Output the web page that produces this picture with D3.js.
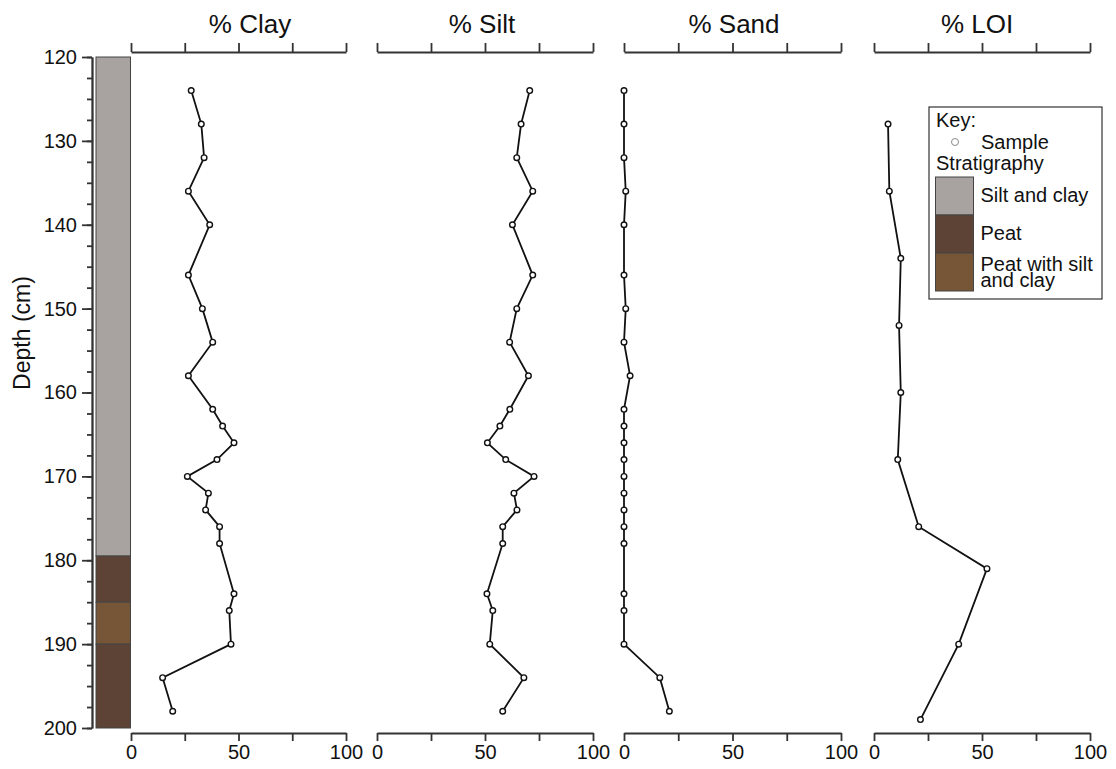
<!DOCTYPE html>
<html>
<head>
<meta charset="utf-8">
<script src="https://cdn.jsdelivr.net/npm/d3@7"></script>
<style>
  body { margin: 0; background: #fff; }
  svg { font-family: Arial, "Liberation Sans", sans-serif; }
</style>
</head>
<body>
<div id="chart"></div>
<script>
// sample depths (cm) and grain size percentages
const depths = [124, 128, 132, 136, 140, 146, 150, 154, 158, 162, 164, 166, 168, 170, 172, 174, 176, 178, 184, 186, 190, 194, 198];
const clay = [28, 32.7, 34, 26.7, 36.6, 26.7, 33.2, 38, 26.7, 38, 42.6, 47.9, 40, 26.2, 36, 34.7, 41.2, 41.2, 47.9, 45.7, 46.5, 14.7, 19.4];
const silt = [70.7, 66.7, 64.7, 72.1, 62.7, 72.1, 64.7, 61.4, 70.1, 61.5, 56.9, 51.1, 59.6, 72.7, 63.4, 64.8, 58.2, 58.2, 50.9, 53.6, 52.2, 68, 58.2];
const sand = [0, 0, 0, 0.8, 0, 0, 0.8, 0, 2.8, 0, 0, 0, 0, 0, 0, 0, 0, 0, 0, 0, 0, 16.5, 20.9];

// loss on ignition samples
const loiDepths = [128, 136, 144, 152, 160, 168, 176, 181, 190, 199];
const loi = [6.5, 7.1, 12.4, 11.6, 12.4, 11, 20.7, 52.3, 39.2, 21.5];

// stratigraphy column
const strataTop = [120, 179.5, 185, 190];
const strataBottom = [179.5, 185, 190, 200];
const strataType = ["Silt and clay", "Peat", "Peat with silt and clay", "Peat"];

const strataNames = ["Silt and clay", "Peat", "Peat with silt and clay"];
const strataColors = ["#a8a3a0", "#5d4335", "#765636"];

const panelTitles = ["% Clay", "% Silt", "% Sand", "% LOI"];
const depthTicks = [120, 130, 140, 150, 160, 170, 180, 190, 200];
const pctTicks = [0, 25, 50, 75, 100];

const width = 1116, height = 769;

const svg = d3.select("#chart").append("svg")
  .attr("width", width)
  .attr("height", height);

const y = d3.scaleLinear().domain([120, 200]).range([57, 728]);
const stratColor = d3.scaleOrdinal().domain(strataNames).range(strataColors);

// panel placements (left/right pixel edge of 0..100)
const panelX = [[131, 346], [377, 593], [624, 841], [874, 1090]];
const titleX = [250, 482, 734, 977];
const axisTopY = 52, axisBottomY = 733;

const axisColor = "#333";

// ---- depth axis ----
const yMinor = d3.range(120, 200.01, 2.5);
svg.append("g")
  .attr("transform", "translate(92,0)")
  .call(d3.axisLeft(y).tickValues(yMinor).tickSize(5).tickFormat("").tickSizeOuter(0));
svg.append("g")
  .attr("transform", "translate(92,0)")
  .call(d3.axisLeft(y).tickValues(depthTicks).tickSize(10).tickPadding(5).tickSizeOuter(0))
  .call(g => g.selectAll("text").attr("font-size", 20).attr("font-family", "Arial, 'Liberation Sans'").attr("fill", "#111"));

svg.selectAll(".domain, .tick line").attr("stroke", axisColor).attr("stroke-width", 1.8);

svg.append("text")
  .attr("transform", "translate(30,333) rotate(-90)")
  .attr("text-anchor", "middle")
  .attr("font-size", 23)
  .attr("fill", "#111")
  .text("Depth (cm)");

// ---- stratigraphy column ----
svg.append("g").selectAll("rect")
  .data(strataTop)
  .join("rect")
  .attr("x", 96)
  .attr("width", 34.5)
  .attr("y", d => y(d))
  .attr("height", (d, i) => y(strataBottom[i]) - y(d))
  .attr("fill", (d, i) => stratColor(strataType[i]))
  .attr("stroke", "#444")
  .attr("stroke-width", 1);

// ---- profile panels ----
const series = [
  { depth: depths, values: clay },
  { depth: depths, values: silt },
  { depth: depths, values: sand },
  { depth: loiDepths, values: loi }
];

series.forEach((s, i) => {
  const x = d3.scaleLinear().domain([0, 100]).range(panelX[i]);
  const g = svg.append("g");

  g.append("g")
    .attr("transform", `translate(0,${axisTopY})`)
    .call(d3.axisTop(x).tickValues(pctTicks).tickSize(9).tickFormat("").tickSizeOuter(0));

  g.append("g")
    .attr("transform", `translate(0,${axisBottomY})`)
    .call(d3.axisBottom(x).tickValues(pctTicks).tickSize(8).tickPadding(4).tickSizeOuter(0)
      .tickFormat(d => d % 50 === 0 ? d : ""))
    .call(a => a.selectAll("text").attr("font-size", 20).attr("font-family", "Arial, 'Liberation Sans'").attr("fill", "#111"));

  g.selectAll(".domain, .tick line").attr("stroke", axisColor).attr("stroke-width", 1.8);

  g.append("text")
    .attr("x", titleX[i])
    .attr("y", 33)
    .attr("text-anchor", "middle")
    .attr("font-size", 26)
    .attr("fill", "#111")
    .text(panelTitles[i]);

  const pts = s.depth.map((d, k) => [x(s.values[k]), y(d)]);

  g.append("path")
    .attr("d", d3.line()(pts))
    .attr("fill", "none")
    .attr("stroke", "#111")
    .attr("stroke-width", 1.8);

  g.selectAll("circle")
    .data(pts)
    .join("circle")
    .attr("cx", d => d[0])
    .attr("cy", d => d[1])
    .attr("r", 2.8)
    .attr("fill", "#fff")
    .attr("stroke", "#111")
    .attr("stroke-width", 1.4);
});

// ---- legend ----
const legend = svg.append("g").attr("transform", "translate(929,107)");
legend.append("rect")
  .attr("width", 173).attr("height", 192)
  .attr("fill", "#fff").attr("stroke", "#333").attr("stroke-width", 1.2);

legend.append("text").attr("x", 7).attr("y", 20).attr("font-size", 20).attr("fill", "#111").text("Key:");
legend.append("circle").attr("cx", 26).attr("cy", 35).attr("r", 3.5)
  .attr("fill", "#fff").attr("stroke", "#888").attr("stroke-width", 1);
legend.append("text").attr("x", 52).attr("y", 42).attr("font-size", 20).attr("fill", "#111").text("Sample");
legend.append("text").attr("x", 7).attr("y", 63).attr("font-size", 20).attr("fill", "#111").text("Stratigraphy");

const items = legend.selectAll(".key-item")
  .data(strataNames)
  .join("g")
  .attr("class", "key-item")
  .attr("transform", (d, i) => `translate(6.5,${70 + i * 38})`);

items.append("rect")
  .attr("width", 38).attr("height", 38)
  .attr("fill", d => stratColor(d))
  .attr("stroke", "#444").attr("stroke-width", 1);

// two-line label for the last key entry
items.each(function (d) {
  const lines = d === "Peat with silt and clay" ? ["Peat with silt", "and clay"] : [d];
  const t = d3.select(this).append("text").attr("font-size", 20).attr("fill", "#111");
  const y0 = lines.length > 1 ? 18 : 25;
  lines.forEach((l, k) => t.append("tspan").attr("x", 45).attr("y", y0 + k * 16).text(l));
});
</script>
</body>
</html>
